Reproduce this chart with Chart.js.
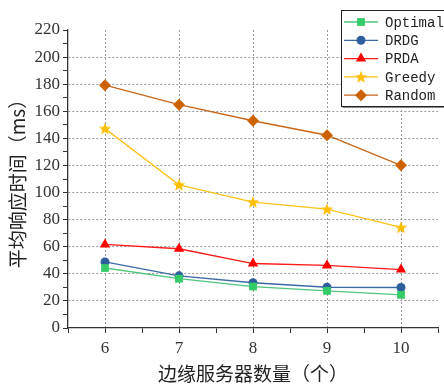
<!DOCTYPE html>
<html>
<head>
<meta charset="utf-8">
<script src="https://cdn.jsdelivr.net/npm/chart.js@4"></script>
<style>
  body { margin: 0; background: #fff; }
  #wrap { width: 444px; height: 387px; }
</style>
</head>
<body>
<div id="wrap"><canvas id="c" width="444" height="387"></canvas></div>
<script>
// data
const servers = [6, 7, 8, 9, 10];
const optimal = [44.3, 36.4, 30.6, 27.4, 24.5];
const drdg = [48.8, 38.5, 33.4, 30.1, 29.9];
const prda = [61.7, 58.5, 47.6, 46.2, 43.1];
const greedy = [147.2, 105.7, 93, 87.7, 74.2];
const random = [179.3, 164.9, 153, 142.3, 120.1];
const yTicks = [0, 20, 40, 60, 80, 100, 120, 140, 160, 180, 200, 220];

// filled star marker
function makeStar(color) {
    const c = document.createElement('canvas');
    c.width = 14; c.height = 14;
    const g = c.getContext('2d');
    g.beginPath();
    for (let i = 0; i < 10; i++) {
        const r = i % 2 === 0 ? 6.5 : 2.8;
        const a = -Math.PI / 2 + i * Math.PI / 5;
        const px = 7 + r * Math.cos(a), py = 7.5 + r * Math.sin(a);
        if (i === 0) g.moveTo(px, py); else g.lineTo(px, py);
    }
    g.closePath();
    g.fillStyle = color;
    g.fill();
    return c;
}
const star = makeStar('#ffbf00');

const pts = arr => arr.map((v, i) => ({ x: servers[i], y: v }));

const series = [
    { label: 'Optimal', data: pts(optimal), borderColor: '#4fc47e', backgroundColor: '#33cc66', pointStyle: 'rect', pointRadius: 5.5 },
    { label: 'DRDG', data: pts(drdg), borderColor: '#3d6aa6', backgroundColor: '#2e5f9c', pointStyle: 'circle', pointRadius: 4.5 },
    { label: 'PRDA', data: pts(prda), borderColor: '#ff1a1a', backgroundColor: '#ff0000', pointStyle: 'triangle', pointRadius: 6 },
    { label: 'Greedy', data: pts(greedy), borderColor: '#ffc21a', backgroundColor: '#ffbf00', pointStyle: star, pointRadius: 6 },
    { label: 'Random', data: pts(random), borderColor: '#c8661a', backgroundColor: '#cc6200', pointStyle: 'rectRot', pointRadius: 6 }
];
series.forEach(s => {
    s.borderWidth = 1.3;
    s.pointBorderWidth = 0;
    s.pointBackgroundColor = s.backgroundColor;
    s.pointBorderColor = s.backgroundColor;
    s.fill = false;
    s.tension = 0;
});

// legend drawn in a box at the top right, like the original
const boxLegend = {
    id: 'boxLegend',
    afterDraw(chart) {
        const ctx = chart.ctx;
        const x0 = 341, y0 = 10, w = 120, h = 96;
        ctx.save();
        ctx.fillStyle = '#fff';
        ctx.fillRect(x0, y0, w, h);
        ctx.strokeStyle = '#222';
        ctx.lineWidth = 1;
        ctx.strokeRect(x0 + 0.5, y0 + 0.5, w, h);
        ctx.strokeStyle = '#888';
        ctx.beginPath();
        ctx.moveTo(x0 + 1.5, y0 + h + 1.5);
        ctx.lineTo(x0 + w, y0 + h + 1.5);
        ctx.stroke();
        ctx.font = '14px "Liberation Mono"';
        ctx.textBaseline = 'middle';
        chart.data.datasets.forEach((ds, i) => {
            const y = 22 + i * 18.3;
            ctx.strokeStyle = ds.borderColor;
            ctx.lineWidth = 1.3;
            ctx.beginPath();
            ctx.moveTo(344, y);
            ctx.lineTo(378, y);
            ctx.stroke();
            ctx.fillStyle = ds.backgroundColor;
            ctx.strokeStyle = ds.backgroundColor;
            Chart.helpers.drawPoint(ctx, {
                pointStyle: ds.pointStyle, radius: ds.pointRadius, borderWidth: 0, rotation: 0
            }, 361, y);
            ctx.fillStyle = '#222';
            ctx.fillText(ds.label, 385, y + 1);
        });
        ctx.restore();
    }
};

// minor ticks every 10 on y and every 0.5 on x
const tickFont = { family: '"Liberation Serif"', size: 17 };

new Chart(document.getElementById('c'), {
    type: 'line',
    data: { datasets: series },
    options: {
        responsive: false,
        animation: false,
        layout: { padding: { top: 30, right: 5, left: 0, bottom: 2 } },
        plugins: { legend: { display: false }, tooltip: { enabled: false } },
        scales: {
            x: {
                type: 'linear',
                min: 5.5,
                max: 10.5,
                afterFit: s => { s.height = 57; },
                ticks: {
                    stepSize: 0.5,
                    autoSkip: false,
                    maxRotation: 0,
                    padding: 5,
                    color: '#333',
                    font: tickFont,
                    callback: v => (Number.isInteger(v) ? String(v) : '')
                },
                grid: {
                    drawTicks: true,
                    tickLength: 5,
                    tickColor: '#333',
                    tickWidth: 1,
                    lineWidth: 1,
                    color: ctx => (ctx.tick && Number.isInteger(ctx.tick.value) ? '#9a9a9a' : 'rgba(0,0,0,0)')
                },
                border: { display: true, color: '#333', width: 1.3, dash: [2, 2] },
                title: {
                    display: true,
                    text: '边缘服务器数量（个）',
                    color: '#222',
                    font: { family: '"Noto Sans CJK SC"', size: 19 },
                    padding: { top: 0, bottom: 0 }
                }
            },
            y: {
                min: 0,
                max: 220,
                afterFit: s => { s.width = 68; },
                afterBuildTicks: s => {
                    const t = [];
                    for (let v = 0; v <= 220; v += 10) t.push({ value: v });
                    s.ticks = t;
                },
                ticks: {
                    autoSkip: false,
                    padding: 3,
                    color: '#333',
                    font: tickFont,
                    callback: v => (yTicks.includes(v) ? String(v) : '')
                },
                grid: {
                    drawTicks: true,
                    tickLength: 5,
                    tickColor: '#333',
                    tickWidth: 1,
                    lineWidth: 1,
                    color: ctx => {
                        const v = ctx.tick ? ctx.tick.value : -1;
                        return (v % 20 === 0 && v > 0 && v < 220) ? '#9a9a9a' : 'rgba(0,0,0,0)';
                    }
                },
                border: { display: true, color: '#333', width: 1.3, dash: [2, 2] },
                title: {
                    display: true,
                    text: '平均响应时间（ms）',
                    color: '#222',
                    font: { family: '"Noto Sans CJK SC"', size: 19 },
                    padding: { top: 6, bottom: 0 }
                }
            }
        }
    },
    plugins: [boxLegend]
});
</script>
</body>
</html>
